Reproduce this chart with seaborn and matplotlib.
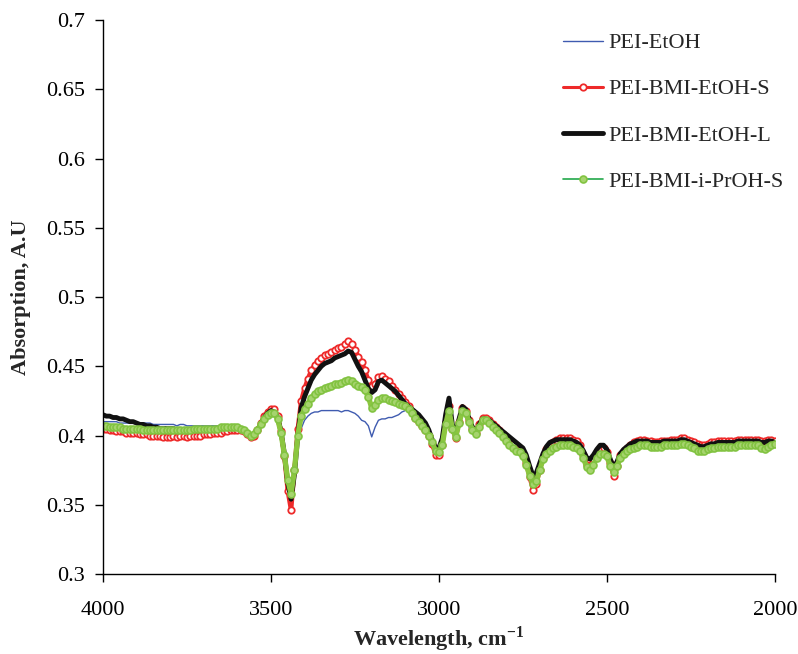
import numpy as np
import pandas as pd
import matplotlib
matplotlib.use("Agg")
import matplotlib.pyplot as plt
import seaborn as sns
from matplotlib.ticker import FuncFormatter, MultipleLocator

# wavenumber grid, cm-1 (every 10 from 4000 down to 2000)
wavenumber = np.arange(4000, 1999, -10)

pei_etoh = [
    0.410, 0.410, 0.410, 0.410, 0.410, 0.409, 0.409, 0.409, 0.409, 0.409,
    0.409, 0.409, 0.409, 0.409, 0.409, 0.408, 0.408, 0.408, 0.408, 0.408,
    0.408, 0.408, 0.407, 0.408, 0.408, 0.407, 0.407, 0.407, 0.407, 0.407,
    0.407, 0.407, 0.407, 0.407, 0.407, 0.407, 0.407, 0.406, 0.406, 0.406,
    0.406, 0.405, 0.404, 0.402, 0.400, 0.401, 0.404, 0.407, 0.411, 0.414,
    0.415, 0.414, 0.411, 0.401, 0.385, 0.368, 0.358, 0.372, 0.392, 0.405,
    0.411, 0.414, 0.416, 0.417, 0.417, 0.418, 0.418, 0.418, 0.418, 0.418,
    0.418, 0.417, 0.418, 0.418, 0.417, 0.416, 0.414, 0.411, 0.410, 0.407,
    0.399, 0.406, 0.411, 0.412, 0.412, 0.413, 0.413, 0.414, 0.415, 0.417,
    0.418, 0.419, 0.419, 0.417, 0.413, 0.409, 0.405, 0.400, 0.394, 0.389,
    0.388, 0.393, 0.408, 0.418, 0.404, 0.397, 0.406, 0.416, 0.413, 0.406,
    0.401, 0.400, 0.406, 0.411, 0.411, 0.409, 0.406, 0.404, 0.402, 0.399,
    0.397, 0.394, 0.392, 0.391, 0.390, 0.386, 0.380, 0.372, 0.366, 0.368,
    0.376, 0.384, 0.388, 0.390, 0.392, 0.393, 0.394, 0.394, 0.394, 0.394,
    0.393, 0.392, 0.389, 0.384, 0.378, 0.376, 0.380, 0.385, 0.388, 0.388,
    0.386, 0.379, 0.375, 0.379, 0.385, 0.388, 0.390, 0.391, 0.392, 0.393,
    0.394, 0.394, 0.394, 0.393, 0.393, 0.393, 0.393, 0.394, 0.394, 0.394,
    0.394, 0.394, 0.395, 0.395, 0.394, 0.393, 0.392, 0.390, 0.390, 0.390,
    0.391, 0.392, 0.392, 0.393, 0.393, 0.393, 0.393, 0.393, 0.393, 0.394,
    0.394, 0.394, 0.394, 0.394, 0.394, 0.394, 0.392, 0.391, 0.393, 0.394,
    0.395,
]

pei_bmi_etoh_s = [
    0.405, 0.405, 0.404, 0.404, 0.403, 0.403, 0.403, 0.402, 0.402, 0.402,
    0.402, 0.401, 0.401, 0.401, 0.400, 0.400, 0.400, 0.400, 0.399, 0.399,
    0.399, 0.400, 0.399, 0.400, 0.400, 0.399, 0.400, 0.400, 0.400, 0.400,
    0.401, 0.401, 0.401, 0.402, 0.402, 0.402, 0.403, 0.403, 0.404, 0.404,
    0.404, 0.404, 0.403, 0.401, 0.399, 0.400, 0.404, 0.409, 0.414, 0.417,
    0.419, 0.419, 0.414, 0.403, 0.385, 0.360, 0.346, 0.375, 0.405, 0.425,
    0.434, 0.441, 0.447, 0.451, 0.454, 0.456, 0.458, 0.459, 0.460, 0.462,
    0.463, 0.464, 0.466, 0.468, 0.466, 0.462, 0.457, 0.453, 0.447, 0.440,
    0.436, 0.437, 0.442, 0.443, 0.441, 0.439, 0.436, 0.433, 0.430, 0.427,
    0.424, 0.421, 0.417, 0.413, 0.410, 0.407, 0.404, 0.400, 0.394, 0.386,
    0.386, 0.393, 0.410, 0.421, 0.405, 0.398, 0.410, 0.420, 0.418, 0.411,
    0.405, 0.402, 0.408, 0.413, 0.413, 0.411, 0.408, 0.406, 0.404, 0.401,
    0.399, 0.397, 0.394, 0.391, 0.390, 0.387, 0.380, 0.370, 0.361, 0.365,
    0.375, 0.384, 0.390, 0.393, 0.395, 0.397, 0.398, 0.398, 0.398, 0.398,
    0.397, 0.396, 0.393, 0.386, 0.379, 0.378, 0.383, 0.388, 0.391, 0.391,
    0.388, 0.380, 0.371, 0.378, 0.386, 0.389, 0.391, 0.393, 0.395, 0.396,
    0.397, 0.397, 0.396, 0.396, 0.395, 0.395, 0.396, 0.396, 0.396, 0.397,
    0.397, 0.397, 0.398, 0.398, 0.397, 0.396, 0.395, 0.394, 0.393, 0.393,
    0.394, 0.395, 0.395, 0.396, 0.396, 0.396, 0.396, 0.396, 0.396, 0.397,
    0.397, 0.397, 0.397, 0.397, 0.397, 0.397, 0.396, 0.396, 0.397, 0.397,
    0.396,
]

pei_bmi_etoh_l = [
    0.415, 0.414, 0.414, 0.413, 0.413, 0.412, 0.412, 0.411, 0.410, 0.410,
    0.409, 0.408, 0.408, 0.407, 0.407, 0.406, 0.406, 0.405, 0.405, 0.405,
    0.405, 0.405, 0.404, 0.404, 0.404, 0.404, 0.404, 0.404, 0.404, 0.404,
    0.404, 0.404, 0.404, 0.405, 0.405, 0.405, 0.405, 0.405, 0.405, 0.405,
    0.405, 0.405, 0.404, 0.402, 0.400, 0.401, 0.404, 0.408, 0.413, 0.416,
    0.418, 0.417, 0.413, 0.403, 0.387, 0.366, 0.354, 0.372, 0.400, 0.420,
    0.428, 0.434, 0.440, 0.444, 0.447, 0.450, 0.452, 0.453, 0.454, 0.456,
    0.457, 0.458, 0.459, 0.461, 0.460, 0.455, 0.450, 0.446, 0.440, 0.434,
    0.431, 0.433, 0.439, 0.440, 0.438, 0.436, 0.434, 0.432, 0.429, 0.426,
    0.423, 0.421, 0.419, 0.417, 0.415, 0.412, 0.409, 0.404, 0.397, 0.391,
    0.391, 0.398, 0.415, 0.427, 0.408, 0.400, 0.412, 0.421, 0.419, 0.412,
    0.406, 0.403, 0.408, 0.412, 0.412, 0.411, 0.409, 0.407, 0.405, 0.403,
    0.401, 0.399, 0.397, 0.395, 0.393, 0.391, 0.386, 0.378, 0.371, 0.373,
    0.380, 0.387, 0.392, 0.395, 0.396, 0.397, 0.397, 0.397, 0.397, 0.397,
    0.396, 0.395, 0.393, 0.389, 0.384, 0.383, 0.386, 0.390, 0.393, 0.393,
    0.390, 0.383, 0.377, 0.381, 0.387, 0.390, 0.392, 0.394, 0.395, 0.396,
    0.396, 0.396, 0.396, 0.395, 0.395, 0.395, 0.395, 0.396, 0.396, 0.396,
    0.396, 0.396, 0.397, 0.397, 0.396, 0.395, 0.394, 0.393, 0.392, 0.392,
    0.393, 0.394, 0.394, 0.395, 0.395, 0.395, 0.395, 0.395, 0.395, 0.396,
    0.396, 0.396, 0.396, 0.396, 0.396, 0.396, 0.395, 0.395, 0.396, 0.396,
    0.395,
]

pei_bmi_iproh_s = [
    0.407, 0.407, 0.406, 0.406, 0.406, 0.406, 0.405, 0.405, 0.405, 0.405,
    0.405, 0.405, 0.404, 0.404, 0.404, 0.404, 0.404, 0.404, 0.404, 0.404,
    0.404, 0.404, 0.404, 0.404, 0.404, 0.404, 0.404, 0.405, 0.405, 0.405,
    0.405, 0.405, 0.405, 0.405, 0.405, 0.406, 0.406, 0.406, 0.406, 0.406,
    0.406, 0.405, 0.404, 0.402, 0.400, 0.401, 0.404, 0.408, 0.412, 0.415,
    0.416, 0.416, 0.412, 0.402, 0.386, 0.368, 0.358, 0.375, 0.400, 0.414,
    0.419, 0.423, 0.427, 0.430, 0.432, 0.433, 0.434, 0.435, 0.436, 0.437,
    0.437, 0.438, 0.439, 0.440, 0.439, 0.437, 0.436, 0.435, 0.433, 0.428,
    0.420, 0.422, 0.426, 0.427, 0.427, 0.426, 0.425, 0.424, 0.423, 0.422,
    0.421, 0.419, 0.416, 0.413, 0.410, 0.407, 0.404, 0.400, 0.395, 0.389,
    0.388, 0.393, 0.408, 0.418, 0.405, 0.399, 0.409, 0.418, 0.416, 0.410,
    0.404, 0.401, 0.406, 0.411, 0.411, 0.409, 0.406, 0.404, 0.402, 0.399,
    0.396, 0.393, 0.391, 0.389, 0.388, 0.385, 0.379, 0.371, 0.365, 0.367,
    0.375, 0.383, 0.387, 0.389, 0.391, 0.392, 0.393, 0.393, 0.393, 0.393,
    0.392, 0.391, 0.389, 0.384, 0.377, 0.375, 0.379, 0.384, 0.387, 0.387,
    0.385, 0.378, 0.374, 0.378, 0.384, 0.387, 0.389, 0.390, 0.391, 0.392,
    0.393, 0.393, 0.393, 0.392, 0.392, 0.392, 0.392, 0.393, 0.393, 0.393,
    0.393, 0.393, 0.394, 0.394, 0.393, 0.392, 0.391, 0.389, 0.389, 0.389,
    0.390, 0.391, 0.391, 0.392, 0.392, 0.392, 0.392, 0.392, 0.392, 0.393,
    0.393, 0.393, 0.393, 0.393, 0.393, 0.393, 0.391, 0.390, 0.392, 0.393,
    0.394,
]

labels = ["PEI-EtOH", "PEI-BMI-EtOH-S", "PEI-BMI-EtOH-L", "PEI-BMI-i-PrOH-S"]

sns.set_style("ticks")
plt.rcParams["font.family"] = ["Liberation Serif", "DejaVu Serif"]
plt.rcParams["mathtext.fontset"] = "custom"
plt.rcParams["mathtext.rm"] = "Liberation Serif"
plt.rcParams["mathtext.bf"] = "Liberation Serif:bold"

fig = plt.figure(figsize=(7.98, 6.54), dpi=100)
ax = fig.add_axes([0.129, 0.1223, 0.842, 0.8471])

# blue thin line
sns.lineplot(x=wavenumber, y=pei_etoh, ax=ax, sort=False, estimator=None,
             color="#3f5bb0", linewidth=1.0, label=labels[0])
# red open circles on a thick red band
sns.lineplot(x=wavenumber, y=pei_bmi_etoh_s, ax=ax, sort=False, estimator=None,
             color="#ee2a2a", linewidth=3.2, marker="o", markersize=4.6,
             markerfacecolor="white", markeredgecolor="#ee2a2a",
             markeredgewidth=1.3, label=labels[1])
# black thick line
sns.lineplot(x=wavenumber, y=pei_bmi_etoh_l, ax=ax, sort=False, estimator=None,
             color="#111111", linewidth=3.5, label=labels[2])
# green filled circles on a lime band
sns.lineplot(x=wavenumber, y=pei_bmi_iproh_s, ax=ax, sort=False, estimator=None,
             color="#8cc63f", linewidth=3.8, marker="o", markersize=5,
             markerfacecolor="#a6d46e", markeredgecolor="#82c341",
             markeredgewidth=1.2, label=labels[3])

ax.set_xlim(4000, 2000)
ax.set_ylim(0.3, 0.7)
ax.xaxis.set_major_locator(MultipleLocator(500))
ax.yaxis.set_major_locator(MultipleLocator(0.05))
ax.yaxis.set_major_formatter(FuncFormatter(lambda v, p: "%g" % round(v, 2)))

sns.despine(ax=ax)
for s in ["left", "bottom"]:
    ax.spines[s].set_linewidth(1.0)
    ax.spines[s].set_color("black")
ax.tick_params(axis="both", direction="out", length=6, width=1.0,
               labelsize=16, colors="black")
ax.tick_params(axis="x", pad=13.5)
ax.tick_params(axis="y", pad=7)

ax.set_xlabel(r"Wavelength, cm$^{\mathbf{-1}}$", fontsize=16, fontweight="bold",
              labelpad=3)
ax.set_ylabel("Absorption, A.U", fontsize=16, fontweight="bold", labelpad=11)

leg = ax.legend(loc="upper left", bbox_to_anchor=(0.685, 0.977), frameon=False,
                fontsize=16, handlelength=1.8, handletextpad=0.25,
                labelspacing=1.15, borderaxespad=0, borderpad=0)
handles = leg.get_lines()
handles[1].set_linewidth(2.2)
handles[3].set_color("#22a84a")
handles[3].set_linewidth(1.2)

fig.savefig("out.png", dpi=100)
